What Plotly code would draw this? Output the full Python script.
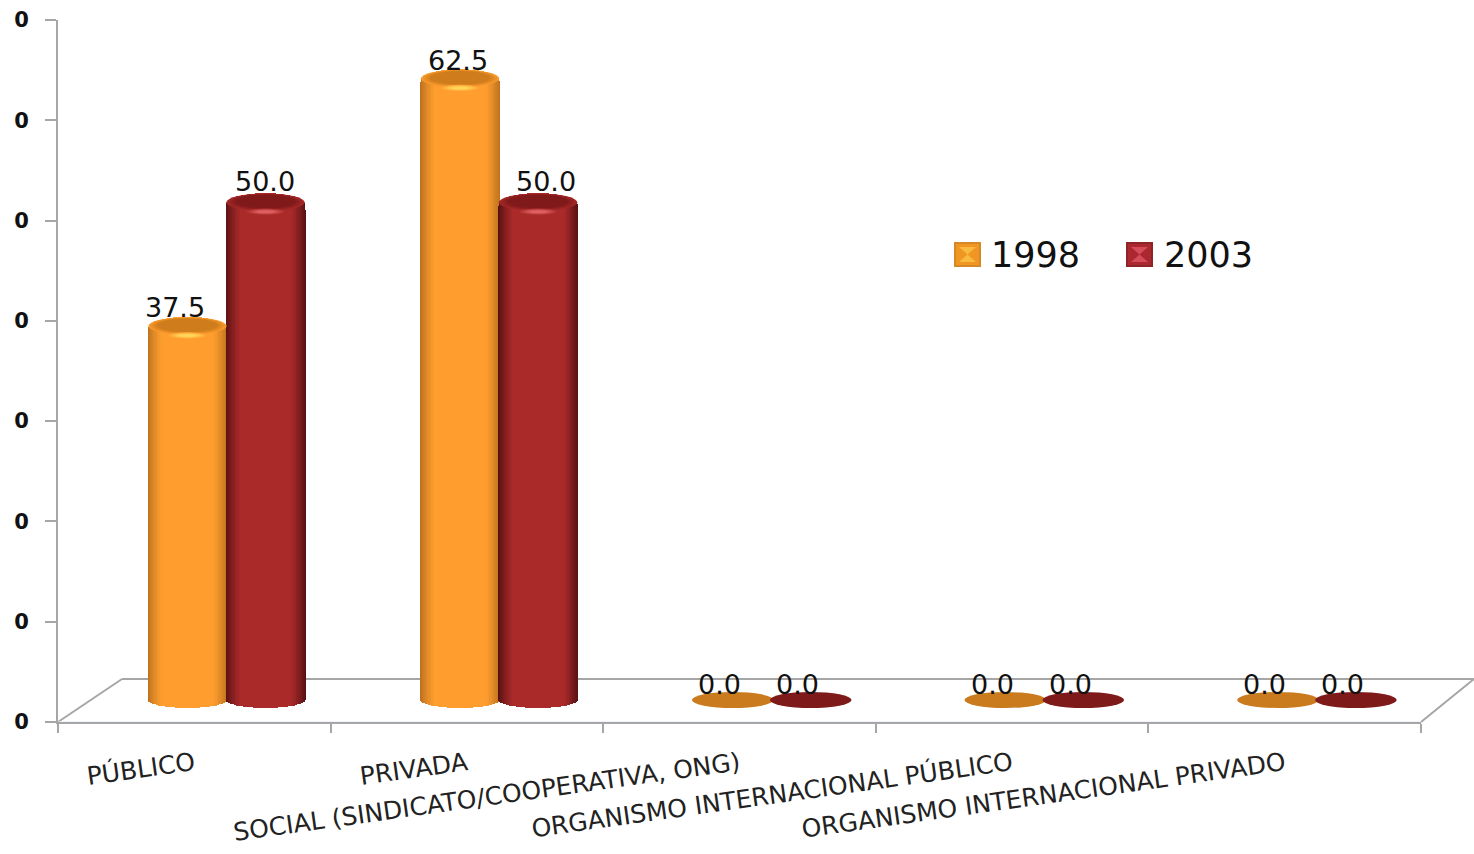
import math
import plotly.graph_objects as go

categories = ["PÚBLICO", "PRIVADA", "SOCIAL (SINDICATO/COOPERATIVA, ONG)",
              "ORGANISMO INTERNACIONAL PÚBLICO", "ORGANISMO INTERNACIONAL PRIVADO"]
series_names = ["1998", "2003"]
values_1998 = [37.5, 62.5, 0.0, 0.0, 0.0]
values_2003 = [50.0, 50.0, 0.0, 0.0, 0.0]
y_ticks = [0, 10, 20, 30, 40, 50, 60, 70]
y_tick_labels = ["0"] * 8

W, H = 1474, 854
L, R, T, B = 58, 1421, 20, 722
CAT_PX = (R - L) / 5
UNIT_PX = 9.9
BASE_PX = 700
GROUP_PX = 226.5
DEPTH_X, DEPTH_Y = 64, 43


def mix(a, b, t):
    return "#%02x%02x%02x" % tuple(round(a[i] + (b[i] - a[i]) * t) for i in range(3))


def px(x):
    return (x - L) / (R - L)


def py(y):
    return (B - y) / (B - T)


series = [
    dict(name=series_names[0], values=values_1998, off=-39 / CAT_PX, edge=(186, 112, 30), mid=(255, 158, 47),
         cap=(206, 124, 28), hi=(255, 214, 90), flat="#c97b1e",
         label_dx=[-13, -2, -13, -13, -13], label_dy=[21, 21, 16, 16, 16],
         sw=(240, 150, 35), sw_edge=(214, 135, 40), sw_hi=(250, 185, 65), legend_x=955, text_x=989),
    dict(name=series_names[1], values=values_2003, off=39 / CAT_PX, edge=(84, 16, 18), mid=(170, 42, 42),
         cap=(128, 26, 26), hi=(222, 96, 96), flat="#7f1a1a",
         label_dx=[-1, 8, -13, -13, -13], label_dy=[24, 24, 16, 16, 16],
         sw=(172, 40, 48), sw_edge=(140, 36, 40), sw_hi=(212, 76, 90), legend_x=1127, text_x=1162),
]

BAR_W = 80 / CAT_PX
BOT_HH = 8 / UNIT_PX
SHOULDER = 5 / UNIT_PX
TOP_RISE = 17 / UNIT_PX
N = 30

fig = go.Figure()
# carrier of the category axis
fig.add_trace(go.Bar(x=categories, y=[0] * 5, xaxis="x", yaxis="y", showlegend=False,
                     hoverinfo="skip", marker_color="rgba(0,0,0,0)"))

shapes = []
annotations = []


def ellipse(cx, half_w, y0, y1, color):
    shapes.append(dict(type="circle", xref="x2", yref="y2", layer="above", line_width=0,
                       x0=cx - half_w, x1=cx + half_w, y0=y0, y1=y1, fillcolor=color))


for s in series:
    xs = [i + s["off"] for i in range(5)]
    body = tuple(s["mid"])
    for k in range(N):
        theta = (k / (N - 1)) * math.pi / 2
        f = math.cos(theta)
        drop = math.sin(theta)
        shade = min(1.0, (1 - f) / 0.34) ** 0.8
        bottoms = [-BOT_HH * drop if v > 0 else 0 for v in s["values"]]
        tops = [v - SHOULDER + TOP_RISE * drop ** 0.6 if v > 0 else 0 for v in s["values"]]
        fig.add_trace(go.Bar(
            x=xs, y=[t - b for t, b in zip(tops, bottoms)], base=bottoms,
            width=BAR_W * f, xaxis="x2", yaxis="y2", showlegend=False, hoverinfo="skip",
            marker=dict(color=mix(s["edge"], s["mid"], shade), line_width=0),
        ))
    for i, v in enumerate(s["values"]):
        cx = xs[i]
        if v > 0:
            # soft cap: ellipses stepping from body colour to cap colour
            for step in range(8):
                t = step / 7
                ellipse(cx, BAR_W * (0.49 - 0.12 * t),
                        v - (6 - 3 * t) / UNIT_PX, v + (11.5 - 1.5 * t) / UNIT_PX,
                        mix(body, s["cap"], 0.12 + 0.88 * t))
            # soft highlight on the front of the cap
            for step in range(5):
                t = step / 4
                ellipse(cx, BAR_W * (0.24 - 0.13 * t),
                        v - (10 - 2 * t) / UNIT_PX, v - (3.5 + 2 * t) / UNIT_PX,
                        mix(body, s["hi"], 0.15 + 0.85 * t))
        else:
            ellipse(cx, BAR_W * 0.51, v - BOT_HH, v + BOT_HH, s["flat"])
        annotations.append(dict(xref="x2", yref="y2", x=cx, y=v, text=f"{v:.1f}", showarrow=False,
                                xshift=s["label_dx"][i], yshift=s["label_dy"][i],
                                font=dict(family="DejaVu Sans", size=27, color="#111111")))

    # legend entry: bevelled swatch and text
    x0, x1, y0, y1 = s["legend_x"], s["legend_x"] + 25, 243, 266
    shapes.append(dict(type="rect", xref="paper", yref="paper", layer="above", x0=px(x0), x1=px(x1),
                       y0=py(y0), y1=py(y1), fillcolor=mix(s["sw"], s["sw"], 0),
                       line=dict(color=mix(s["sw_edge"], s["sw_edge"], 0), width=2)))
    xm, ym = (x0 + x1) / 2, (y0 + y1) / 2
    path = (f"M {px(x0 + 4)} {py(y0 + 4)} L {px(x1 - 4)} {py(y0 + 4)} L {px(xm)} {py(ym)} "
            f"L {px(x1 - 4)} {py(y1 - 4)} L {px(x0 + 4)} {py(y1 - 4)} L {px(xm)} {py(ym)} Z")
    shapes.append(dict(type="path", xref="paper", yref="paper", layer="above", path=path, line_width=0,
                       fillcolor=mix(s["sw_hi"], s["sw_hi"], 0)))
    annotations.append(dict(xref="paper", yref="paper", x=px(s["text_x"]), y=py(255), xanchor="left",
                            yanchor="middle", showarrow=False, text=s["name"],
                            font=dict(family="DejaVu Sans", size=35, color="#111111")))

# 3-D floor
GRAY = "#a6a6a6"
for x0, y0, x1, y1 in [(L, B, L + DEPTH_X, B - DEPTH_Y), (L + DEPTH_X, B - DEPTH_Y, W, B - DEPTH_Y),
                       (R, B, W, B - DEPTH_Y)]:
    shapes.append(dict(type="line", xref="paper", yref="paper", layer="below",
                       x0=px(x0), x1=px(x1), y0=py(y0), y1=py(y1), line=dict(color=GRAY, width=2)))

fig.update_layout(
    width=W, height=H, autosize=False,
    margin=dict(l=L, r=W - R, t=T, b=H - B, pad=0),
    paper_bgcolor="white", plot_bgcolor="rgba(0,0,0,0)",
    barmode="overlay", bargap=0, showlegend=False,
    shapes=shapes, annotations=annotations,
    font=dict(family="DejaVu Sans", color="#222222"),
    xaxis=dict(type="category", categoryorder="array", categoryarray=categories,
               range=[-0.5, 4.5], tickson="boundaries", ticks="outside", ticklen=9, tickwidth=2,
               tickcolor=GRAY, linecolor=GRAY, linewidth=2, showgrid=False, zeroline=False,
               tickangle=-8, ticklabelstandoff=16, tickfont=dict(size=25, color="#222222"), automargin=False),
    yaxis=dict(range=[0, 70], tickvals=y_ticks, ticktext=y_tick_labels, ticks="outside", ticklen=11,
               tickwidth=1.5, tickcolor=GRAY, linecolor=GRAY, linewidth=2, showgrid=False,
               zeroline=False, ticklabelstandoff=12,
               tickfont=dict(size=21, color="#111111", family="DejaVu Sans", weight="bold"),
               automargin=False),
    xaxis2=dict(overlaying="x", range=[(L - GROUP_PX) / CAT_PX, (R - GROUP_PX) / CAT_PX], visible=False),
    yaxis2=dict(overlaying="y", range=[(BASE_PX - B) / UNIT_PX, (BASE_PX - T) / UNIT_PX], visible=False),
)

fig.write_html("out.html", config={"displayModeBar": False},
               post_script="document.body.style.margin='0';")
